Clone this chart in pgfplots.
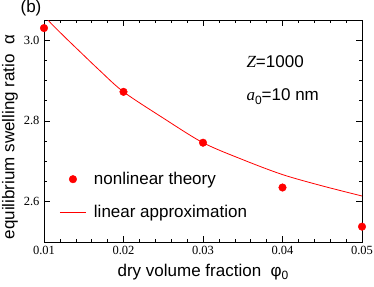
\documentclass[border=0pt]{standalone}
\usepackage{fontspec}
\setmainfont{Liberation Sans}
\newfontfamily\serifnum{Liberation Serif}
\usepackage{pgfplots}
\pgfplotsset{compat=1.18}
\pgfplotsset{
  markleg/.style={legend image code/.code={\path[draw=none] plot[mark=*, mark size=3.8pt, mark options={draw=red, fill=red}] coordinates {(13pt,0pt)};\path[draw=none, fill=none] (0pt,0pt) -- (32pt,0pt);}},
  lineleg/.style={legend image code/.code={\draw[red, line width=0.8pt] (0pt,0pt) -- (26pt,0pt);\path[draw=none] (0pt,0pt) -- (32pt,0pt);}},
}
\begin{document}
\begin{tikzpicture}[x=1pt,y=1pt]
\useasboundingbox (-44,-44) rectangle (330,242);
\begin{axis}[
  at={(0,0)}, anchor=south west,
  scale only axis, width=318pt, height=222pt,
  xmin=0.01, xmax=0.05, ymin=2.5, ymax=3.05,
  xtick={0.01,0.02,0.03,0.04,0.05},
  xticklabels={0.01,0.02,0.03,0.04,0.05},
  scaled x ticks=false,
  ytick={2.6,2.8,3.0},
  yticklabels={2.6,2.8,3.0},
  minor x tick num=4, minor y tick num=3,
  tick align=inside,
  major tick length=6pt, minor tick length=3pt,
  every tick/.style={black, line width=0.6pt},
  axis line style={line width=0.8pt},
  tick label style={font=\serifnum\fontsize{12.5}{14}\selectfont},
  xticklabel style={yshift=-1pt},
  yticklabel style={xshift=-1pt},
  label style={font=\fontsize{17}{20}\selectfont},
  xlabel={dry volume fraction\ \ φ\raisebox{-0.35ex}{\fontsize{12}{14}\selectfont 0}},
  ylabel={equilibrium swelling ratio\ \ α},
  xlabel style={at={(axis description cs:0.5,0)}, anchor=center, yshift=-30pt},
  ylabel style={at={(axis description cs:-0.107,0.473)}, anchor=center},
  legend style={draw=none, fill=none, at={(0.042,0.333)}, anchor=north west,
    font=\fontsize{17}{20}\selectfont, row sep=15pt, inner sep=2pt},
  legend cell align=left,
  clip=true,
]
\addplot[only marks, mark=*, mark size=3.8pt, color=red, markleg]
  coordinates {(0.01,3.030) (0.02,2.872) (0.03,2.746) (0.04,2.635) (0.05,2.538)};
\addlegendentry{nonlinear theory}
\addplot[color=red, line width=0.8pt, smooth, no marks, lineleg]
  coordinates {(0.0100,3.07) (0.0105,3.050) (0.0125,3.010) (0.0145,2.972) (0.0170,2.925) (0.0200,2.872) (0.0250,2.807) (0.0300,2.746) (0.0350,2.704) (0.0400,2.667) (0.0450,2.639) (0.0500,2.614)};
\addlegendentry{linear approximation}
\end{axis}
\node[anchor=west, font=\fontsize{17}{20}\selectfont] at (199,180) {{\serifnum\itshape Z}=1000};
\node[anchor=west, font=\fontsize{17}{20}\selectfont] at (199,145) {{\serifnum\itshape a}\raisebox{-0.45ex}{\fontsize{12}{14}\selectfont 0}=10 nm};
\node[font=\fontsize{17}{20}\selectfont] at (-13,234) {(b)};
\end{tikzpicture}
\end{document}
